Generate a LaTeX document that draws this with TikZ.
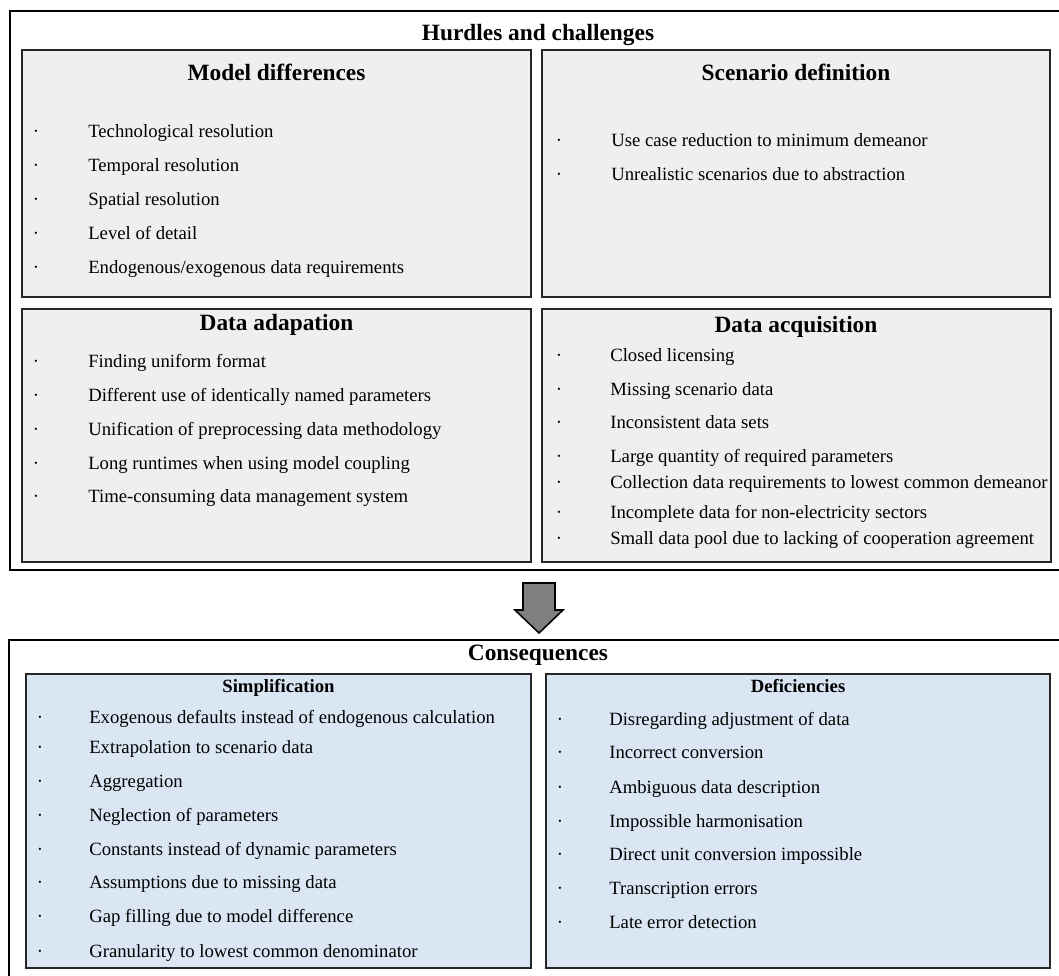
\documentclass[tikz,border=0pt]{standalone}
\usepackage{fontspec}
\setmainfont{Liberation Serif}
\usetikzlibrary{positioning}
\definecolor{boxgray}{HTML}{EFEFEF}
\definecolor{boxblue}{HTML}{DAE6F4}
\definecolor{arrowgray}{HTML}{7F7F7F}

\begin{document}
\begin{tikzpicture}[x=0.025cm,y=-0.025cm]

  \tikzstyle{every node}=[inner sep=0pt, font=\fontsize{13.3}{16}\selectfont]
  \tikzstyle{head}=[anchor=base, font=\fontsize{16.6}{20}\selectfont\bfseries]
  \tikzstyle{subhead}=[anchor=base, font=\fontsize{13.3}{16}\selectfont\bfseries]
  \tikzstyle{item}=[anchor=base west]
  \tikzstyle{dot}=[anchor=base]
  \tikzstyle{frame}=[line width=1.3pt]
  \tikzstyle{panel}=[line width=1.2pt, draw=black!85]

  \useasboundingbox (0,0) rectangle (1059,975);
  \clip (0,0) rectangle (1059,975);

  %%% Hurdles and challenges
  \draw [frame] (10,11) rectangle (1075,570);
  \node [head] (hurdles) at (538,40) {Hurdles and challenges};

  \draw [panel, fill=boxgray] (22,50) rectangle (531,297);
  \node [head] (moddiff) at (276.5,80) {Model differences};
  \foreach \y/\t [count=\i] in {137/Technological resolution, 171/Temporal resolution,
      205/Spatial resolution, 239/Level of detail, 273/{Endogenous/exogenous data requirements}}
  {
    \node [dot] (mdd\i) at (36,\y) {·};
    \node [item] (md\i) at (88,\y) {\t};
  }

  \draw [panel, fill=boxgray] (542,50) rectangle (1050,297);
  \node [head] (scendef) at (796,80) {Scenario definition};
  \foreach \y/\t [count=\i] in {146/Use case reduction to minimum demeanor,
      180/Unrealistic scenarios due to abstraction}
  {
    \node [dot] (sdd\i) at (559,\y) {·};
    \node [item] (sd\i) at (611,\y) {\t};
  }

  \draw [panel, fill=boxgray] (22,309) rectangle (531,562);
  \node [head] (dataadap) at (276.5,330) {Data adapation};
  \foreach \y/\t [count=\i] in {367/Finding uniform format,
      401/Different use of identically named parameters,
      435/Unification of preprocessing data methodology,
      469/Long runtimes when using model coupling,
      502/Time-consuming data management system}
  {
    \node [dot] (dad\i) at (36,\y) {·};
    \node [item] (da\i) at (88,\y) {\t};
  }

  \draw [panel, fill=boxgray] (542,309) rectangle (1051,562);
  \node [head] (dataacq) at (796,332) {Data acquisition};
  \foreach \y/\t [count=\i] in {361/Closed licensing, 395/Missing scenario data,
      428/Inconsistent data sets, 462/Large quantity of required parameters,
      488/Collection data requirements to lowest common demeanor,
      518/Incomplete data for non-electricity sectors,
      544/Small data pool due to lacking of cooperation agreement}
  {
    \node [dot] (dqd\i) at (559,\y) {·};
    \node [item] (dq\i) at (610,\y) {\t};
  }

  %%% arrow down
  \draw [line width=1.1pt, fill=arrowgray] (523,583) -- (555,583) -- (555,610) -- (563,610)
    -- (539,633) -- (515,610) -- (523,610) -- cycle;

  %%% Consequences
  \draw [frame] (9,640) rectangle (1075,990);
  \node [head] (conseq) at (538,660) {Consequences};

  \draw [panel, fill=boxblue] (26,674) rectangle (531,968);
  \node [subhead] (simpl) at (278.5,692) {Simplification};
  \foreach \y/\t [count=\i] in {723/Exogenous defaults instead of endogenous calculation,
      753/Extrapolation to scenario data, 787/Aggregation, 821/Neglection of parameters,
      855/Constants instead of dynamic parameters, 888/Assumptions due to missing data,
      922/Gap filling due to model difference, 957/Granularity to lowest common denominator}
  {
    \node [dot] (spd\i) at (40,\y) {·};
    \node [item] (sp\i) at (89,\y) {\t};
  }

  \draw [panel, fill=boxblue] (546,674) rectangle (1050,968);
  \node [subhead] (defic) at (798,692) {Deficiencies};
  \foreach \y/\t [count=\i] in {725/Disregarding adjustment of data, 758/Incorrect conversion,
      793/Ambiguous data description, 827/Impossible harmonisation,
      860/Direct unit conversion impossible, 894/Transcription errors,
      928/Late error detection}
  {
    \node [dot] (dfd\i) at (560,\y) {·};
    \node [item] (df\i) at (609,\y) {\t};
  }

\end{tikzpicture}
\end{document}
